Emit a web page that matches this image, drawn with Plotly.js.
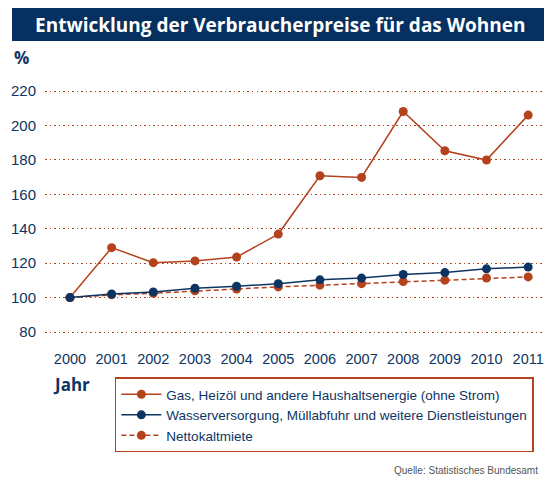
<!DOCTYPE html>
<html>
<head>
<meta charset="utf-8">
<script src="https://cdn.plot.ly/plotly-3.0.1.min.js"></script>
<style>
  html, body { margin: 0; padding: 0; background: #fff; }
  #chart { width: 544px; height: 479px; }
</style>
</head>
<body>
<div id="chart"></div>
<script>
const jahre = [2000, 2001, 2002, 2003, 2004, 2005, 2006, 2007, 2008, 2009, 2010, 2011];
const gasHeizoel = [100, 129, 120.3, 121.3, 123.5, 136.9, 170.8, 169.8, 208.1, 185.3, 179.9, 206.0];
const wasserMuell = [100, 102.1, 103.3, 105.4, 106.6, 108.0, 110.3, 111.3, 113.4, 114.5, 116.7, 117.7];
const nettokaltmiete = [100, 101.6, 102.5, 103.9, 105.0, 106.2, 107.2, 108.1, 109.3, 110.1, 111.4, 112.0];
const yTicks = [80, 100, 120, 140, 160, 180, 200, 220];

const navy = '#0d3563';
const rost = '#b3421d';
const narrow = '"Liberation Sans", Arial, sans-serif';

const traces = [
  {
    x: jahre, y: nettokaltmiete, name: 'Nettokaltmiete',
    mode: 'lines+markers', legendrank: 3,
    line: { color: rost, width: 1.5, dash: '5px,3px' },
    marker: { color: rost, size: 9 }
  },
  {
    x: jahre, y: gasHeizoel, name: 'Gas, Heizöl und andere Haushaltsenergie (ohne Strom)',
    mode: 'lines+markers', legendrank: 1,
    line: { color: rost, width: 1.5 },
    marker: { color: rost, size: 9 }
  },
  {
    x: jahre, y: wasserMuell, name: 'Wasserversorgung, Müllabfuhr und weitere Dienstleistungen',
    mode: 'lines+markers', legendrank: 2,
    line: { color: navy, width: 1.5 },
    marker: { color: navy, size: 9 }
  }
];

const layout = {
  width: 544, height: 479,
  margin: { l: 45, r: 0, t: 85, b: 139, autoexpand: false },
  paper_bgcolor: '#fff', plot_bgcolor: '#fff',
  font: { family: narrow, color: navy },
  xaxis: {
    range: [1999.4, 2011.38],
    tickvals: jahre, ticktext: jahre.map(String),
    showgrid: false, zeroline: false, showline: false,
    ticks: '', ticklabelstandoff: 8, ticklabeloverflow: 'allow',
    tickfont: { size: 14.5, color: navy, family: narrow }
  },
  yaxis: {
    range: [75.35, 223.5],
    tickvals: yTicks,
    showgrid: true, gridcolor: rost, griddash: '1.5px,3px', gridwidth: 1,
    zeroline: false, showline: false,
    ticks: '', ticklabelstandoff: 8,
    tickfont: { size: 15, color: navy, family: narrow }
  },
  showlegend: true,
  legend: {
    x: 0.14, y: -0.147, xanchor: 'left', yanchor: 'top',
    bgcolor: '#fff', bordercolor: rost, borderwidth: 1.5,
    font: { size: 13.5, color: navy, family: narrow },
    itemwidth: 40, tracegroupgap: 0
  },
  shapes: [
    {
      type: 'rect', xref: 'paper', yref: 'paper',
      x0: -0.0661, x1: 1, y0: 1.1725, y1: 1.302,
      fillcolor: '#06305f', line: { width: 0 }, layer: 'below'
    }
  ],
  annotations: [
    {
      text: '<b>Entwicklung der Verbraucherpreise für das Wohnen</b>',
      xref: 'paper', yref: 'paper', x: 0.471, y: 1.237,
      xanchor: 'center', yanchor: 'middle', showarrow: false,
      font: { family: '"Open Sans", sans-serif', size: 19, color: '#fff' }
    },
    {
      text: '<b>%</b>',
      xref: 'paper', yref: 'paper', x: -0.066, y: 1.108,
      xanchor: 'left', yanchor: 'middle', showarrow: false,
      font: { family: '"Open Sans", sans-serif', size: 17, color: navy }
    },
    {
      text: '<b>Jahr</b>',
      xref: 'paper', yref: 'paper', x: 0.012, y: -0.176,
      xanchor: 'left', yanchor: 'middle', showarrow: false,
      font: { family: '"Open Sans", sans-serif', size: 17, color: navy }
    },
    {
      text: 'Quelle: Statistisches Bundesamt',
      xref: 'paper', yref: 'paper', x: 0.992, y: -0.51,
      xanchor: 'right', yanchor: 'middle', showarrow: false,
      font: { family: narrow, size: 10, color: '#555' }
    }
  ]
};

Plotly.newPlot('chart', traces, layout, { displayModeBar: false, staticPlot: true });
</script>
</body>
</html>
